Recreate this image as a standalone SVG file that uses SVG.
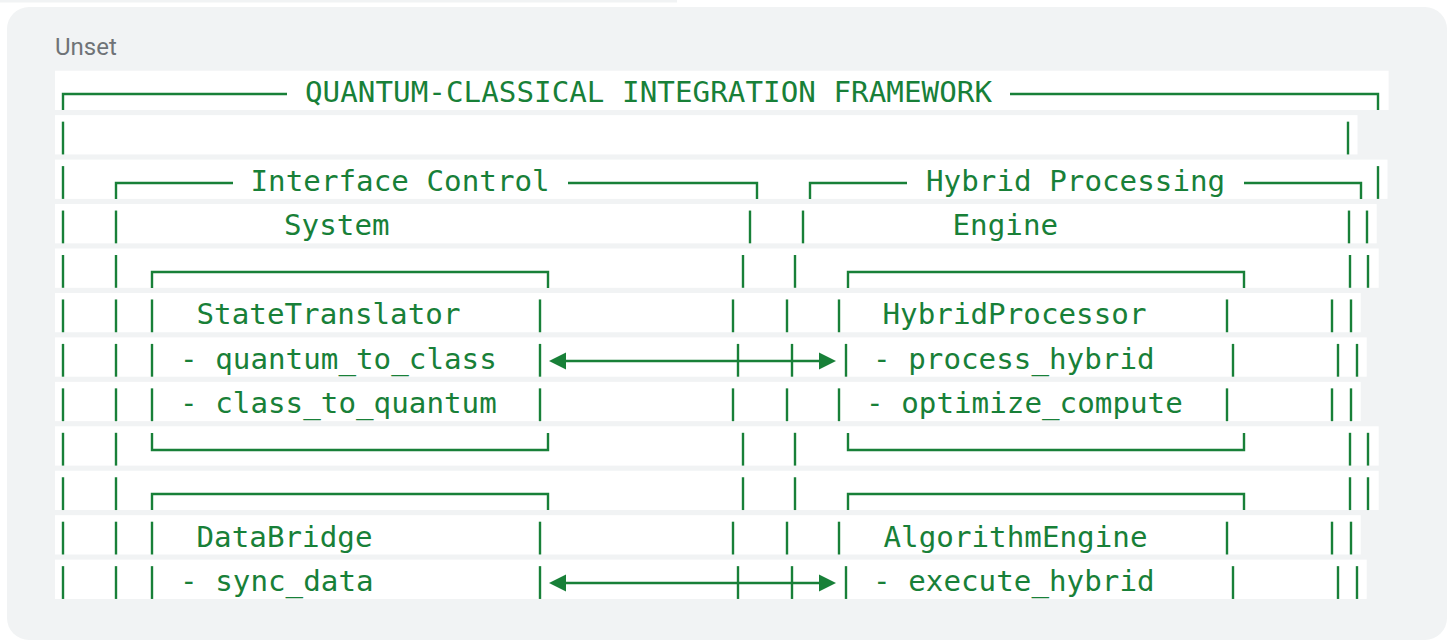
<svg xmlns="http://www.w3.org/2000/svg" xmlns:xlink="http://www.w3.org/1999/xlink" width="1455" height="640" viewBox="0 0 1455 640">
<style>
.ln{fill:#ffffff}
.t{font-family:"DejaVu Sans Mono","Liberation Mono",monospace;font-size:29.2px;fill:#188038}
.b{fill:none;stroke:#188038;stroke-width:2.4}
.ar{fill:none;stroke:#188038;stroke-width:2.4}
.lbl{font-family:Roboto,"Liberation Sans",sans-serif;font-size:24px;fill:#6f7377}
</style>
<defs>
<path id="v" d="M0 6.5V39.3"/>
<marker id="ah" markerUnits="userSpaceOnUse" markerWidth="18" markerHeight="18" refX="0" refY="8.5" orient="auto-start-reverse" viewBox="0 0 18 17">
<path d="M0 0L17 8.5L0 17z" fill="#188038"/>
</marker>
</defs>
<rect x="0" y="0" width="1455" height="640" fill="#ffffff"/>
<rect x="0" y="0" width="677" height="2.5" fill="#f1f3f4"/>
<rect x="7" y="7" width="1440" height="633" rx="22" fill="#f1f3f4"/>
<text class="lbl" x="55" y="55">Unset</text>
<g id="line-backgrounds">
<rect class="ln" x="55" y="70.7" width="1333.6" height="39.3"/>
<rect class="ln" x="55" y="115.15" width="1302.5" height="39.3"/>
<rect class="ln" x="55" y="159.6" width="1332.5" height="39.3"/>
<rect class="ln" x="55" y="204.05" width="1321.7" height="39.3"/>
<rect class="ln" x="55" y="248.5" width="1323.7" height="39.3"/>
<rect class="ln" x="55" y="292.95" width="1305.7" height="39.3"/>
<rect class="ln" x="55" y="337.4" width="1311.7" height="39.3"/>
<rect class="ln" x="55" y="381.85" width="1305.7" height="39.3"/>
<rect class="ln" x="55" y="426.3" width="1323.7" height="39.3"/>
<rect class="ln" x="55" y="470.75" width="1323.7" height="39.3"/>
<rect class="ln" x="55" y="515.2" width="1305.7" height="39.3"/>
<rect class="ln" x="55" y="559.65" width="1311.7" height="39.3"/>
</g>
<g id="framework">
<path class="b" d="M287 94H63V110M1010 94H1378V110"/>
<text class="t" x="305" y="102" textLength="687" lengthAdjust="spacing">QUANTUM-CLASSICAL INTEGRATION FRAMEWORK</text>
<g class="b">
<use href="#v" x="63" y="115.15"/><use href="#v" x="1348" y="115.15"/>
<use href="#v" x="63" y="159.6"/><use href="#v" x="1378" y="159.6"/>
<use href="#v" x="63" y="204.05"/><use href="#v" x="1367" y="204.05"/>
<use href="#v" x="63" y="248.5"/><use href="#v" x="1368" y="248.5"/>
<use href="#v" x="63" y="292.95"/><use href="#v" x="1351" y="292.95"/>
<use href="#v" x="63" y="337.4"/><use href="#v" x="1357" y="337.4"/>
<use href="#v" x="63" y="381.85"/><use href="#v" x="1351" y="381.85"/>
<use href="#v" x="63" y="426.3"/><use href="#v" x="1368" y="426.3"/>
<use href="#v" x="63" y="470.75"/><use href="#v" x="1368" y="470.75"/>
<use href="#v" x="63" y="515.2"/><use href="#v" x="1351" y="515.2"/>
<use href="#v" x="63" y="559.65"/><use href="#v" x="1357" y="559.65"/>
</g>
</g>
<g id="interface-control">
<path class="b" d="M233 183H116V199M568 183H757V199"/>
<text class="t" x="250.5" y="190.9" textLength="299.2" lengthAdjust="spacing">Interface Control</text>
<text class="t" x="284" y="235.35" textLength="105.6" lengthAdjust="spacing">System</text>
<g class="b">
<use href="#v" x="116" y="204.05"/><use href="#v" x="750" y="204.05"/>
<use href="#v" x="116" y="248.5"/><use href="#v" x="743" y="248.5"/>
<use href="#v" x="116" y="292.95"/><use href="#v" x="733" y="292.95"/>
<use href="#v" x="116" y="337.4"/><use href="#v" x="738" y="337.4"/>
<use href="#v" x="116" y="381.85"/><use href="#v" x="733" y="381.85"/>
<use href="#v" x="116" y="426.3"/><use href="#v" x="743" y="426.3"/>
<use href="#v" x="116" y="470.75"/><use href="#v" x="743" y="470.75"/>
<use href="#v" x="116" y="515.2"/><use href="#v" x="733" y="515.2"/>
<use href="#v" x="116" y="559.65"/><use href="#v" x="738" y="559.65"/>
</g>
</g>
<g id="hybrid-processing">
<path class="b" d="M907 183H810V199M1244 183H1361V199"/>
<text class="t" x="926" y="190.9" textLength="299.2" lengthAdjust="spacing">Hybrid Processing</text>
<text class="t" x="952.5" y="235.35" textLength="105.6" lengthAdjust="spacing">Engine</text>
<g class="b">
<use href="#v" x="803" y="204.05"/><use href="#v" x="1349" y="204.05"/>
<use href="#v" x="795" y="248.5"/><use href="#v" x="1350" y="248.5"/>
<use href="#v" x="787" y="292.95"/><use href="#v" x="1332" y="292.95"/>
<use href="#v" x="792" y="337.4"/><use href="#v" x="1338" y="337.4"/>
<use href="#v" x="787" y="381.85"/><use href="#v" x="1332" y="381.85"/>
<use href="#v" x="795" y="426.3"/><use href="#v" x="1350" y="426.3"/>
<use href="#v" x="795" y="470.75"/><use href="#v" x="1350" y="470.75"/>
<use href="#v" x="787" y="515.2"/><use href="#v" x="1332" y="515.2"/>
<use href="#v" x="792" y="559.65"/><use href="#v" x="1338" y="559.65"/>
</g>
</g>
<g id="state-translator">
<path class="b" d="M152 288V272H548V288M152 433V450H548V433"/>
<g class="b">
<use href="#v" x="152" y="292.95"/><use href="#v" x="540" y="292.95"/>
<use href="#v" x="152" y="337.4"/><use href="#v" x="540" y="337.4"/>
<use href="#v" x="152" y="381.85"/><use href="#v" x="540" y="381.85"/>
</g>
<text class="t" x="196.5" y="324.25" textLength="264" lengthAdjust="spacing">StateTranslator</text>
<text class="t" x="180" y="368.7" textLength="316.8" lengthAdjust="spacing">- quantum_to_class</text>
<text class="t" x="180" y="413.15" textLength="316.8" lengthAdjust="spacing">- class_to_quantum</text>
</g>
<g id="hybrid-processor">
<path class="b" d="M848 288V272H1244V288M848 433V450H1244V433"/>
<g class="b">
<use href="#v" x="839" y="292.95"/><use href="#v" x="1227" y="292.95"/>
<use href="#v" x="846" y="337.4"/><use href="#v" x="1233" y="337.4"/>
<use href="#v" x="839" y="381.85"/><use href="#v" x="1227" y="381.85"/>
</g>
<text class="t" x="882.5" y="324.25" textLength="264" lengthAdjust="spacing">HybridProcessor</text>
<text class="t" x="873" y="368.7" textLength="281.6" lengthAdjust="spacing">- process_hybrid</text>
<text class="t" x="866" y="413.15" textLength="316.8" lengthAdjust="spacing">- optimize_compute</text>
</g>
<g id="data-bridge">
<path class="b" d="M152 510V494H548V510"/>
<g class="b">
<use href="#v" x="152" y="515.2"/><use href="#v" x="540" y="515.2"/>
<use href="#v" x="152" y="559.65"/><use href="#v" x="540" y="559.65"/>
</g>
<text class="t" x="196.5" y="546.5" textLength="176" lengthAdjust="spacing">DataBridge</text>
<text class="t" x="180" y="590.95" textLength="193.6" lengthAdjust="spacing">- sync_data</text>
</g>
<g id="algorithm-engine">
<path class="b" d="M848 510V494H1244V510"/>
<g class="b">
<use href="#v" x="839" y="515.2"/><use href="#v" x="1227" y="515.2"/>
<use href="#v" x="846" y="559.65"/><use href="#v" x="1233" y="559.65"/>
</g>
<text class="t" x="883.5" y="546.5" textLength="264" lengthAdjust="spacing">AlgorithmEngine</text>
<text class="t" x="873" y="590.95" textLength="281.6" lengthAdjust="spacing">- execute_hybrid</text>
</g>
<g id="connectors">
<path class="ar" d="M566 361H819" marker-start="url(#ah)" marker-end="url(#ah)"/>
<path class="ar" d="M566 583H819" marker-start="url(#ah)" marker-end="url(#ah)"/>
</g>
</svg>
